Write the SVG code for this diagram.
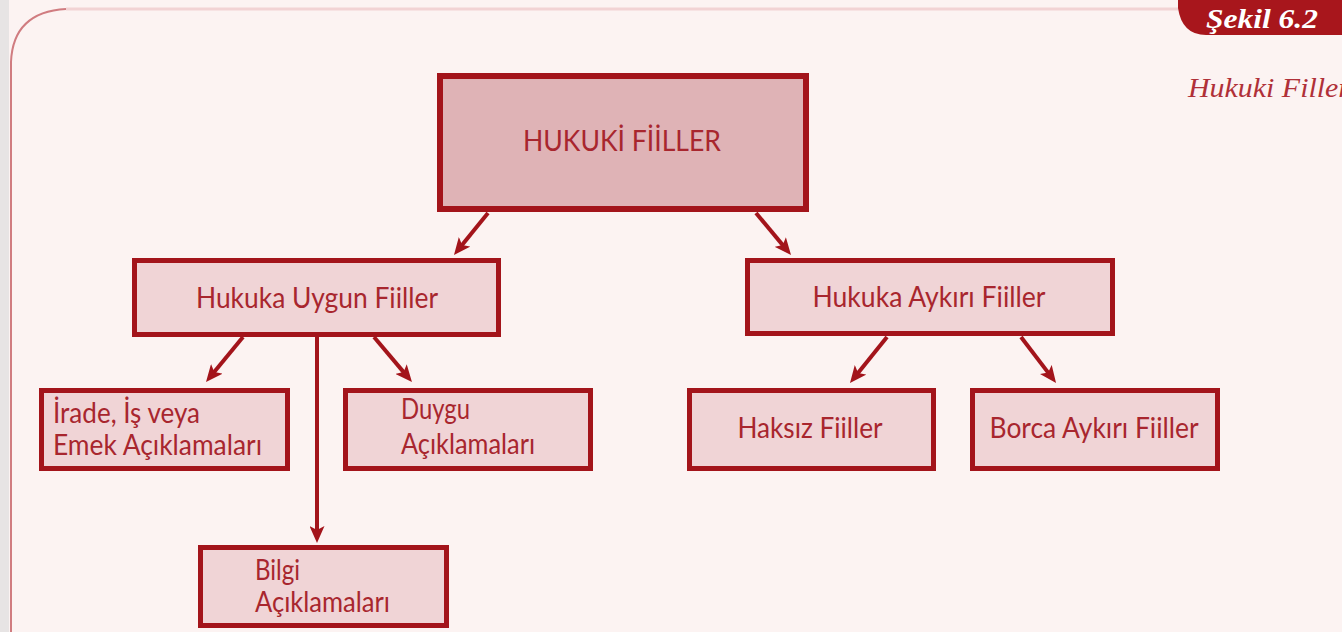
<svg xmlns="http://www.w3.org/2000/svg" width="1342" height="632" viewBox="0 0 1342 632">
<style>
.bg{fill:#fcf3f2}
.box{fill:#f0d4d6;stroke:#a3141b;stroke-width:5}
.top{fill:#dfb3b6;stroke:#a3141b;stroke-width:6}
.t{font-family:Lato,"Open Sans",sans-serif;font-size:29px;fill:#a8262e}
.c{stroke:#a3141b;stroke-width:4;fill:none;marker-end:url(#ah)}
</style>
<defs>
<marker id="ah" viewBox="0 0 17 15" refX="9" refY="7.5" markerWidth="17" markerHeight="15" markerUnits="userSpaceOnUse" orient="auto">
<path d="M0,0 L17,7.5 L0,15 L4,7.5 Z" fill="#a3141b"/>
</marker>
</defs>
<rect class="bg" x="0" y="0" width="1342" height="632"/>
<rect x="0" y="0" width="9" height="632" fill="#e7e4e4"/>
<path d="M11,632 L11,62 Q13,12 66,9" fill="none" stroke="#d07c80" stroke-width="2"/>
<path d="M66,9 L1180,9" fill="none" stroke="#f2d3d4" stroke-width="3"/>
<g id="badge">
<path d="M1178,0 L1342,0 L1342,35 L1206,35 Q1182,35 1178,8 Z" fill="#a8161c"/>
<text x="1206" y="28" font-family="'Liberation Serif',serif" font-size="28" font-weight="bold" font-style="italic" fill="#ffffff" textLength="112" lengthAdjust="spacingAndGlyphs">Şekil 6.2</text>
</g>
<text x="1188" y="97" font-family="'Liberation Serif',serif" font-size="27" font-style="italic" fill="#b03038" textLength="162" lengthAdjust="spacingAndGlyphs">Hukuki Filler</text>
<g id="connectors">
<path class="c" d="M488,213 L459,248.8"/>
<path class="c" d="M756,213 L785.9,248.9"/>
<path class="c" d="M243,337 L211.1,375.8"/>
<path class="c" d="M374,337 L406.8,375.9"/>
<path class="c" d="M317,337 L317,535"/>
<path class="c" d="M887,337 L855,376.8"/>
<path class="c" d="M1021,337 L1051.2,376.6"/>
</g>
<g id="n-hukuki">
<rect class="top" x="440" y="76" width="366" height="133"/>
<text class="t" x="622" y="151" text-anchor="middle" textLength="198" lengthAdjust="spacingAndGlyphs">HUKUKİ FİİLLER</text>
</g>
<g id="n-uygun">
<rect class="box" x="134.5" y="260.5" width="364" height="74"/>
<text class="t" x="317" y="308" text-anchor="middle" textLength="242" lengthAdjust="spacingAndGlyphs">Hukuka Uygun Fiiller</text>
</g>
<g id="n-aykiri">
<rect class="box" x="747.5" y="260.5" width="365" height="73"/>
<text class="t" x="929" y="307" text-anchor="middle" textLength="233" lengthAdjust="spacingAndGlyphs">Hukuka Aykırı Fiiller</text>
</g>
<g id="n-irade">
<rect class="box" x="41.5" y="390.5" width="246" height="78"/>
<text class="t" x="53" y="423" textLength="147" lengthAdjust="spacingAndGlyphs">İrade, İş veya</text>
<text class="t" x="53" y="455" textLength="209" lengthAdjust="spacingAndGlyphs">Emek Açıklamaları</text>
</g>
<g id="n-duygu">
<rect class="box" x="345.5" y="390.5" width="245" height="78"/>
<text class="t" x="401" y="419" textLength="69" lengthAdjust="spacingAndGlyphs">Duygu</text>
<text class="t" x="401" y="454" textLength="134" lengthAdjust="spacingAndGlyphs">Açıklamaları</text>
</g>
<g id="n-haksiz">
<rect class="box" x="689.5" y="390.5" width="244" height="78"/>
<text class="t" x="810" y="438" text-anchor="middle" textLength="145" lengthAdjust="spacingAndGlyphs">Haksız Fiiller</text>
</g>
<g id="n-borca">
<rect class="box" x="972.5" y="390.5" width="245" height="78"/>
<text class="t" x="1094" y="438" text-anchor="middle" textLength="209" lengthAdjust="spacingAndGlyphs">Borca Aykırı Fiiller</text>
</g>
<g id="n-bilgi">
<rect class="box" x="200.5" y="547.5" width="246" height="78"/>
<text class="t" x="255" y="580" textLength="45" lengthAdjust="spacingAndGlyphs">Bilgi</text>
<text class="t" x="255" y="612" textLength="135" lengthAdjust="spacingAndGlyphs">Açıklamaları</text>
</g>
</svg>
